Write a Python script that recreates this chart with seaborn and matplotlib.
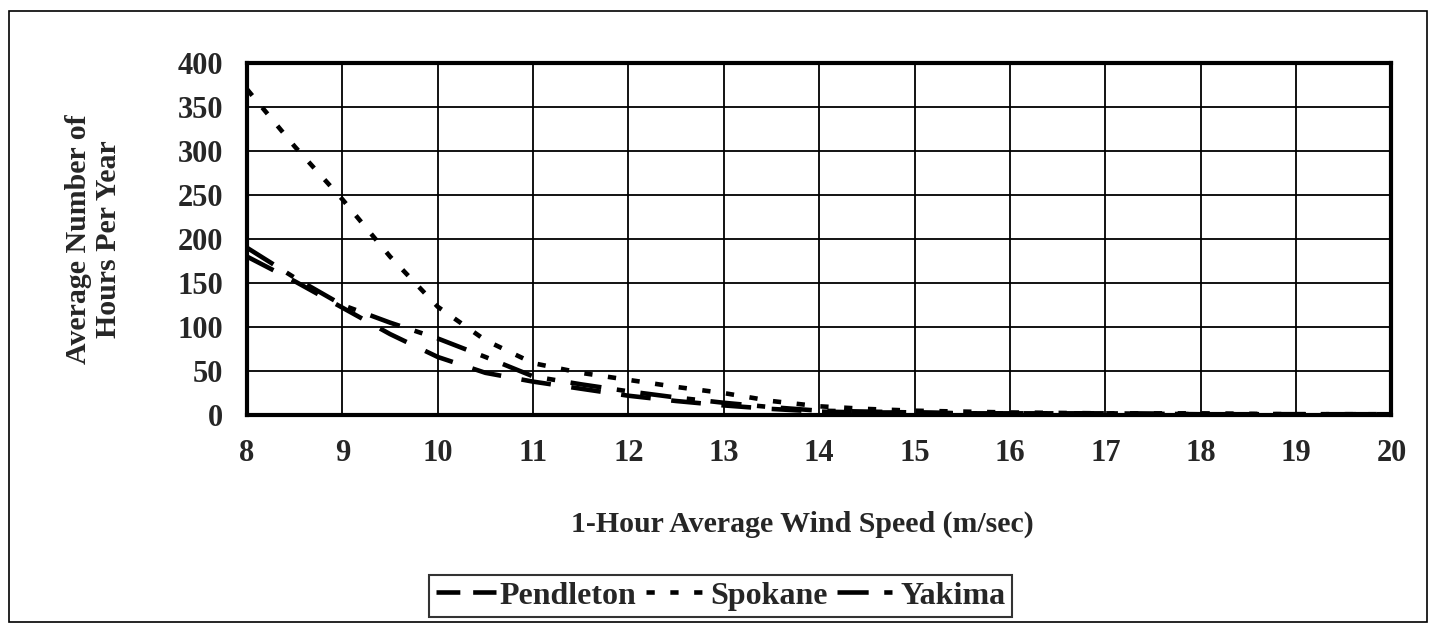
import numpy as np
import pandas as pd
import matplotlib
matplotlib.use("Agg")
import matplotlib.pyplot as plt
import seaborn as sns
from matplotlib.patches import Rectangle

# wind speed (m/sec)
speed = [8, 8.5, 9, 9.5, 10, 10.5, 11, 11.5, 12, 12.5, 13, 13.5, 14, 14.5, 15,
         15.5, 16, 17, 18, 19, 20]

# average hours per year
pendleton = [180, 152, 122, 92, 66, 48, 38, 30, 22, 16, 11, 7, 4, 3, 3,
             2, 2, 2, 1, 1, 1]
spokane = [370, 305, 245, 180, 123, 85, 59, 48, 40, 32, 25, 16, 10, 7, 5,
           4, 3, 2, 2, 1, 1]
yakima = [190, 156, 125, 105, 87, 66, 44, 35, 27, 20, 14, 9, 5, 4, 3,
          2, 2, 2, 1, 1, 1]

df = pd.DataFrame({"speed": speed, "Pendleton": pendleton,
                   "Spokane": spokane, "Yakima": yakima})
long_df = df.melt(id_vars="speed", var_name="site", value_name="hours")

sns.set_style("white")
plt.rcParams["font.family"] = ["Liberation Serif", "DejaVu Serif"]
plt.rcParams["font.weight"] = "bold"

fig = plt.figure(figsize=(14.36, 6.28), dpi=100)
ax = fig.add_axes([0.172, 0.339, 0.797, 0.561])

sns.lineplot(data=long_df, x="speed", y="hours", hue="site", style="site",
             palette=["black", "black", "black"],
             dashes=[(6.5, 4.5), (1.8, 3.4), (6.8, 3.4, 1.8, 3.4)],
             linewidth=3.3, ax=ax)

ax.set_xlim(8, 20)
ax.set_ylim(0, 400)
ax.set_xticks(range(8, 21))
ax.set_yticks(range(0, 401, 50))
ax.grid(True, color="black", linewidth=1.3)
ax.set_axisbelow(True)
for s in ax.spines.values():
    s.set_visible(True)
    s.set_color("black")
    s.set_linewidth(3)
ax.tick_params(axis="both", which="both", direction="out", length=7,
               width=1.2, color="black", labelsize=22, pad=10)
for lab in ax.get_xticklabels() + ax.get_yticklabels():
    lab.set_fontweight("bold")

ax.set_xlabel("1-Hour Average Wind Speed (m/sec)", fontsize=21.5,
              fontweight="bold")
ax.xaxis.set_label_coords(0.485, -0.27)
ax.set_ylabel("Average Number of\nHours Per Year", fontsize=21.5,
              fontweight="bold", linespacing=1.15)
ax.yaxis.set_label_coords(-0.109, 0.5)

ax.legend_.remove()
handles, labels = ax.get_legend_handles_labels()
leg = fig.legend(handles, labels, loc="center", bbox_to_anchor=(0.502, 0.051),
                 ncol=3, frameon=True, fancybox=False, edgecolor="black",
                 handlelength=1.9, handletextpad=0.1, columnspacing=0.3,
                 borderpad=0.2, borderaxespad=0,
                 prop={"size": 23, "weight": "bold"})
leg.get_frame().set_linewidth(1.5)
# legend swatch: two equal long dashes for Pendleton
leg.get_lines()[0].set_dashes((5.2, 2.8))

fig.patches.append(Rectangle((0.006, 0.01), 0.988, 0.972, transform=fig.transFigure,
                             fill=False, edgecolor="black", linewidth=1.2))

fig.savefig("out.png", dpi=100, facecolor="white")
